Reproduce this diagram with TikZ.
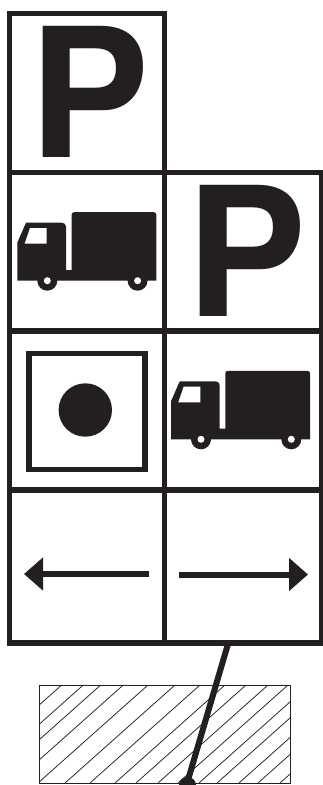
\documentclass[tikz,border=0pt]{standalone}
\usepackage{fontspec}
\setmainfont{TeX Gyre Heros}
\usetikzlibrary{arrows.meta}
\definecolor{ink}{HTML}{231F20}
\tikzset{
  frame/.style={draw=ink, line width=5.5pt},
  bigp/.style={ink, font=\fontsize{180}{180}\selectfont\bfseries, inner sep=0pt, anchor=base},
  hatch/.style={ink, line width=0.75pt},
  pointer/.style={-{Triangle[length=19pt,width=32pt]}, ink, line width=6pt},
  truck/.pic={
    \fill[ink] (0,0) -- (0,-38) -- (8.7,-58) [rounded corners=4pt] -- (48.7,-58) [sharp corners] -- (48.7,-10.7)
      -- (54.3,-10.7) [rounded corners=2.5pt] -- (54.3,-68.5) -- (139,-68.5) [sharp corners] -- (139,0) -- cycle;
    \fill[ink] (30,0) circle (10pt) (120.3,0) circle (10pt);
    \fill[white] (30,0) circle (3.5pt) (120.3,0) circle (3.5pt);
    \fill[white] (12.7,-52.7) -- (29.3,-52.7) -- (29.3,-37) -- (7.3,-37) -- cycle;
  }
}
\begin{document}
\begin{tikzpicture}[x=1pt, y=-1pt]
\useasboundingbox (0,0) rectangle (322,785);

% deska
\draw[frame] (9.5,13.5) rectangle (164.5,172.5);
\draw[frame] (9.5,172.5) rectangle (321.5,643);
\draw[frame] (164.5,172.5) -- (164.5,643);
\draw[frame] (9.5,331) -- (321.5,331);
\draw[frame] (9.5,490) -- (321.5,490);

% pismena
\node[bigp] (topP) at (89.4,157) {P};
\node[bigp] (sideP) at (246.4,316) {P};

% nakladaky
\pic at (17.3,280.7) {truck};
\pic at (171,439.3) {truck};

% ctverec s teckou
\draw[frame] (29.2,353.5) rectangle (145.2,469.5);
\fill[ink] (85.3,410) circle (26.7pt);

% sipky
\coordinate (leftStart) at (149,574);
\coordinate (leftEnd) at (24,574);
\coordinate (rightStart) at (179,574.5);
\coordinate (rightEnd) at (308,574.5);
\draw[pointer] (leftStart) -- (leftEnd);
\draw[pointer] (rightStart) -- (rightEnd);

% srafovana plocha
\begin{scope}
\clip (39,685) rectangle (290,783);
\foreach \xt in {61.7,83.3,100.7,123.3,148,175,200,225,246,268,288,309,327,349,368,390}
  \draw[hatch] (\xt,685) -- (\xt-110,783);
\end{scope}
\draw[ink, line width=0.9pt] (39,685) rectangle (290,783);

% sloupek
\coordinate (poleTop) at (227.7,645);
\coordinate (poleFoot) at (188.3,779);
\draw[ink, line width=6pt] (poleTop) -- (poleFoot);
\fill[ink] (179,785) arc[start angle=180, end angle=360, x radius=8.5, y radius=8] -- cycle;

\end{tikzpicture}
\end{document}
